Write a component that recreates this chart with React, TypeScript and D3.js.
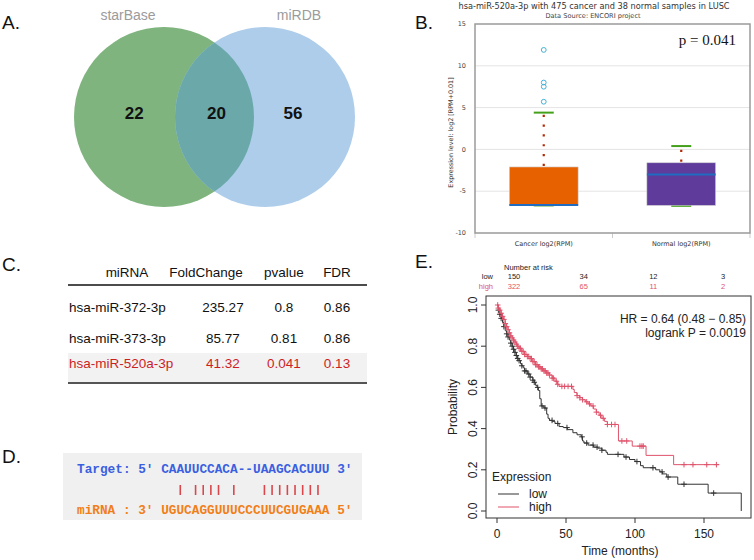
import React from 'react';
import * as d3 from 'd3';

// ---- A: venn
const vennSets = ['starBase', 'miRDB'];
const vennCounts = [22, 20, 56]; // starBase only, shared, miRDB only

// ---- B: box plot
const boxGroups = ['Cancer log2(RPM)', 'Normal log2(RPM)'];
const boxStats = [
  { q1: -6.7, median: -6.65, q3: -2.1, lo: -6.7, hi: 4.4 },
  { q1: -6.7, median: -3.0, q3: -1.6, lo: -6.75, hi: 0.4 },
];
const cancerOutliers = [5.7, 7.5, 8.0, 11.9];
const boxTicks = [15, 10, 5, 0, -5, -10];

// ---- C: table
const tableHeader = ['miRNA', 'FoldChange', 'pvalue', 'FDR'];
const tableRows = [
  ['hsa-miR-372-3p', '235.27', '0.8', '0.86'],
  ['hsa-miR-373-3p', '85.77', '0.81', '0.86'],
  ['hsa-miR-520a-3p', '41.32', '0.041', '0.13'],
];
const highlightRow = 2;

// ---- D: binding site
const targetSeq = 'CAAUUCCACA--UAAGCACUUU';
const mirnaSeq = 'UGUCAGGUUUCCCUUCGUGAAA';
const pairIdx = [2, 4, 5, 6, 7, 9, 13, 14, 15, 16, 17, 18, 19, 20];

// ---- E: Kaplan-Meier
const lowSteps: [number, number][] = [
  [1, 0.975], [2, 0.955], [3, 0.935], [4, 0.915], [5, 0.895], [6, 0.875], [7, 0.86], [8, 0.845],
  [9, 0.83], [10, 0.815], [11, 0.8], [12, 0.785], [13, 0.77], [14, 0.755], [15, 0.74], [16, 0.73],
  [17, 0.715], [18, 0.705], [19, 0.695], [20, 0.68], [22, 0.665], [24, 0.65], [26, 0.635], [27, 0.625],
  [28, 0.61], [29, 0.6], [30, 0.585], [31, 0.545], [32, 0.51], [34, 0.5], [36, 0.47], [37, 0.45],
  [38, 0.44], [40, 0.435], [42, 0.425], [45, 0.41], [48, 0.405], [51, 0.395], [55, 0.38], [58, 0.37],
  [61, 0.36], [62, 0.34], [63, 0.33], [66, 0.32], [70, 0.31], [73, 0.305], [76, 0.295], [79, 0.285],
  [80, 0.275], [92, 0.262], [96, 0.25], [100, 0.24], [104, 0.22], [106, 0.21], [115, 0.2], [118, 0.19],
  [120, 0.18], [123, 0.165], [131, 0.13], [153, 0.087], [177, 0],
];
const highSteps: [number, number][] = [
  [1, 0.985], [2, 0.975], [3, 0.96], [4, 0.945], [5, 0.93], [6, 0.91], [7, 0.895], [8, 0.88],
  [9, 0.865], [10, 0.85], [11, 0.84], [12, 0.83], [13, 0.82], [14, 0.81], [15, 0.8], [16, 0.79],
  [18, 0.775], [20, 0.76], [22, 0.75], [24, 0.74], [26, 0.725], [28, 0.71], [30, 0.7], [32, 0.69],
  [34, 0.68], [36, 0.67], [38, 0.66], [40, 0.645], [42, 0.63], [44, 0.615], [45, 0.605], [55, 0.59],
  [56, 0.575], [58, 0.56], [60, 0.55], [62, 0.54], [64, 0.53], [66, 0.52], [68, 0.51], [70, 0.495],
  [72, 0.48], [74, 0.465], [76, 0.45], [78, 0.435], [80, 0.42], [88, 0.34], [98, 0.315], [108, 0.27],
  [128, 0.225], [161, 0.225],
];
const lowCensor = [1, 2, 3, 5, 7, 8, 10, 11, 12, 13, 14, 15, 16, 18, 20, 21, 23, 24, 26, 27, 29.5,
  32.6, 34.8, 39.9, 44, 50.7, 61.6, 65, 69.6, 72.5, 76, 87.7, 93.5, 101.4, 113, 119.6, 124, 135.5, 157];
const highCensor = [0.5, 1, 2, 3, 4, 5, 6, 7, 8, 9, 10, 11, 12, 13, 14, 15, 16, 17, 18, 19, 20, 21, 22,
  23, 24, 25, 26, 27, 28, 29, 30, 31, 32, 33, 34, 35, 36, 37, 38, 40, 41, 43, 44, 47, 49, 51.5, 54, 58,
  60, 62, 65, 67, 69.6, 72, 75, 77, 80, 83, 85.5, 90.5, 94, 103.6, 105, 106, 135.5, 142, 152, 159];
const riskTimes = [0, 50, 100, 150];
const riskLow = [150, 34, 12, 3];
const riskHigh = [322, 65, 11, 2];
const kmXTicks = [0, 50, 100, 150];
const kmYTicks = [0, 0.2, 0.4, 0.6, 0.8, 1.0];

const SANS = 'Liberation Sans, Arial, sans-serif';
const DEJA = 'DejaVu Sans, Verdana, sans-serif';
const LOW_COL = '#333333';
const HIGH_COL = '#DF536B';

function survAt(steps: [number, number][], t: number) {
  let s = 1;
  for (const [tt, ss] of steps) {
    if (tt <= t) s = ss;
    else break;
  }
  return s;
}

const Label = ({ x, y, t }: { x: number; y: number; t: string }) => (
  <text x={x} y={y} fontFamily={SANS} fontSize={19} fill="#111">{t}</text>
);

function Venn() {
  const r = 90, cy = 117;
  const c1 = 164, c2 = 265;
  const pos = [c1 - r * 0.33, (c1 + c2) / 2 + 2, c2 + r * 0.31];
  return (
    <g>
      <defs>
        <clipPath id="clipLeft"><circle cx={c1} cy={cy} r={r} /></clipPath>
      </defs>
      <circle cx={c1} cy={cy} r={r} fill="#7fb47e" />
      <circle cx={c2} cy={cy} r={r} fill="#aecdeb" />
      <circle cx={c2} cy={cy} r={r} fill="#6aa8aa" clipPath="url(#clipLeft)" />
      {vennSets.map((s, i) => (
        <text key={s} x={i === 0 ? 128 : 299} y={20} textAnchor="middle" fontFamily={SANS}
          fontSize={14} fill="#9b9b9b">{s}</text>
      ))}
      {vennCounts.map((v, i) => (
        <text key={i} x={pos[i]} y={119} textAnchor="middle" fontFamily={SANS} fontSize={17}
          fontWeight="bold" fill="#111">{v}</text>
      ))}
    </g>
  );
}

function BoxPlot() {
  const left = 475, right = 750, top = 24, bottom = 233;
  const y = d3.scaleLinear().domain([-10, 15]).range([bottom, top]);
  const x = d3.scaleBand().domain(boxGroups).range([left, right]);
  const bw = x.bandwidth() * 0.5;
  const fills = ['#e86100', '#5f3b9b'];
  return (
    <g>
      <text x={594} y={9} textAnchor="middle" fontFamily={DEJA} fontSize={8.2} fill="#333">
        hsa-miR-520a-3p with 475 cancer and 38 normal samples in LUSC
      </text>
      <text x={593} y={17.5} textAnchor="middle" fontFamily={DEJA} fontSize={6.6} fill="#444">
        Data Source: ENCORI project
      </text>
      {boxTicks.map(t => (
        <g key={t}>
          {t > -10 && t < 15 && (
            <line x1={left} x2={right} y1={y(t)} y2={y(t)} stroke="#e4e4e4" strokeWidth={1} />
          )}
          <text x={466} y={y(t) + 2.2} textAnchor="end" fontFamily={DEJA} fontSize={6.5} fill="#444">{t}</text>
        </g>
      ))}
      {[left, left + x.bandwidth(), right].map((v, i) => (
        <line key={i} x1={v} x2={v} y1={bottom} y2={bottom + 5} stroke="#ccc" strokeWidth={1} />
      ))}
      {boxStats.map((s, i) => {
        const cx = (x(boxGroups[i]) || 0) + x.bandwidth() / 2;
        return (
          <g key={i}>
            <line x1={cx} x2={cx} y1={y(s.q3) - 1} y2={y(s.hi)} stroke="#b22a00" strokeWidth={2.2}
              strokeDasharray="2.2 7.6" />
            <line x1={cx - 10} x2={cx + 10} y1={y(s.hi)} y2={y(s.hi)} stroke="#44a01a" strokeWidth={2} />
            <line x1={cx - 10} x2={cx + 10} y1={y(s.lo)} y2={y(s.lo)} stroke="#44a01a" strokeWidth={2} />
            <rect x={cx - bw / 2} y={y(s.q3)} width={bw} height={y(s.q1) - y(s.q3)} fill={fills[i]}
              stroke="#cfcfcf" strokeWidth={0.6} />
            <line x1={cx - bw / 2} x2={cx + bw / 2} y1={y(s.median)} y2={y(s.median)} stroke="#1f6cc0"
              strokeWidth={2} />
            <text x={cx} y={245.5} textAnchor="middle" fontFamily={DEJA} fontSize={6.5} fill="#333">
              {boxGroups[i]}
            </text>
          </g>
        );
      })}
      {cancerOutliers.map((o, i) => (
        <circle key={i} cx={(x(boxGroups[0]) || 0) + x.bandwidth() / 2} cy={y(o)} r={2.4} fill="none"
          stroke="#45b0d6" strokeWidth={1} />
      ))}
      <rect x={left} y={top} width={right - left} height={bottom - top} fill="none" stroke="#9a9a9a"
        strokeWidth={1.5} />
      <text transform={`translate(453,${(top + bottom) / 2 + 4}) rotate(-90)`} textAnchor="middle"
        fontFamily={DEJA} fontSize={6.4} fill="#333">Expression level: log2 [RPM+0.01]</text>
      <text x={736} y={45} textAnchor="end" fontFamily="Liberation Serif, Times New Roman, serif"
        fontSize={15} fill="#111">p = 0.041</text>
    </g>
  );
}

function Table() {
  const headX = [127, 206, 284, 337];
  const cellX = [69, 223, 284, 337];
  const rowY = [311.5, 342.5, 367.5];
  return (
    <g fontFamily={SANS} fontSize={13.5}>
      <rect x={68} y={353} width={299} height={30} fill="#f2f2f2" />
      {tableHeader.map((h, i) => (
        <text key={h} x={headX[i]} y={277} textAnchor="middle" fill="#111">{h}</text>
      ))}
      <line x1={68} x2={367} y1={285} y2={285} stroke="#111" strokeWidth={1.3} />
      {tableRows.map((row, r) => row.map((c, i) => (
        <text key={r + '-' + i} x={cellX[i]} y={rowY[r]} textAnchor={i === 0 ? 'start' : 'middle'}
          fill={r === highlightRow ? '#cc1f1f' : '#111'}>{c}</text>
      )))}
      <line x1={68} x2={367} y1={383} y2={383} stroke="#555" strokeWidth={2} />
    </g>
  );
}

function Binding() {
  const fs = 12.75;
  const cw = fs * 0.6;
  const x0 = 77;
  const seqX = x0 + 11 * cw;
  return (
    <g fontFamily="Liberation Mono, Courier New, monospace" fontSize={fs} fontWeight="bold">
      <rect x={63} y={453} width={299} height={67} fill="#f0f0f0" />
      <text x={x0} y={473} fill="#3a5fe0" xmlSpace="preserve">{`Target: 5' ${targetSeq} 3'`}</text>
      <text x={x0} y={514} fill="#f07f1a" xmlSpace="preserve">{`miRNA : 3' ${mirnaSeq} 5'`}</text>
      {pairIdx.map(i => (
        <line key={i} x1={seqX + cw * (i + 0.5)} x2={seqX + cw * (i + 0.5)} y1={485} y2={495}
          stroke="#d9474c" strokeWidth={1.6} />
      ))}
    </g>
  );
}

function KM() {
  const left = 486, right = 751, top = 296, bottom = 518;
  const x = d3.scaleLinear().domain([0, 150]).range([497, 704]);
  const y = d3.scaleLinear().domain([0, 1]).range([511, 305]);
  const rx = d3.scaleLinear().domain([0, 150]).range([514, 723]);
  const line = d3.line<[number, number]>().x(d => x(d[0])).y(d => y(d[1])).curve(d3.curveStepAfter);
  const series = [
    { steps: lowSteps, cens: lowCensor, col: LOW_COL },
    { steps: highSteps, cens: highCensor, col: HIGH_COL },
  ];
  return (
    <g fontFamily={SANS}>
      <text x={504} y={270} fontSize={7.5} fill="#222">Number at risk</text>
      <text x={493} y={279} textAnchor="end" fontSize={7.5} fill="#222">low</text>
      <text x={493} y={289} textAnchor="end" fontSize={7.5} fill={HIGH_COL}>high</text>
      {riskTimes.map((t, i) => (
        <g key={t}>
          <text x={rx(t)} y={279} textAnchor="middle" fontSize={7.5} fill="#222">{riskLow[i]}</text>
          <text x={rx(t)} y={289} textAnchor="middle" fontSize={7.5} fill={HIGH_COL}>{riskHigh[i]}</text>
        </g>
      ))}
      {series.map((s, k) => (
        <g key={k}>
          <path d={line([[0, 1], ...s.steps]) || ''} fill="none" stroke={s.col} strokeWidth={1} />
          {s.cens.map((c, j) => {
            const cx = x(c), cy = y(survAt(s.steps, c));
            return (
              <path key={j} d={`M${cx - 2.8},${cy}H${cx + 2.8}M${cx},${cy - 2.8}V${cy + 2.8}`} stroke={s.col}
                strokeWidth={1} />
            );
          })}
        </g>
      ))}
      <rect x={left} y={top} width={right - left} height={bottom - top} fill="none" stroke="#333"
        strokeWidth={1} />
      {kmYTicks.map(t => (
        <g key={t}>
          <line x1={left - 5} x2={left} y1={y(t)} y2={y(t)} stroke="#333" />
          <text transform={`translate(477,${y(t)}) rotate(-90)`} textAnchor="middle" fontSize={12}
            fill="#222">{t.toFixed(1)}</text>
        </g>
      ))}
      {kmXTicks.map(t => (
        <g key={t}>
          <line x1={x(t)} x2={x(t)} y1={bottom} y2={bottom + 5} stroke="#333" />
          <text x={x(t)} y={538} textAnchor="middle" fontSize={12} fill="#222">{t}</text>
        </g>
      ))}
      <text x={620} y={555} textAnchor="middle" fontSize={12} fill="#222">Time (months)</text>
      <text transform={`translate(457,${(top + bottom) / 2}) rotate(-90)`} textAnchor="middle"
        fontSize={12} fill="#222">Probability</text>
      <text x={746} y={323} textAnchor="end" fontSize={12} fill="#222">HR = 0.64 (0.48 − 0.85)</text>
      <text x={746} y={337} textAnchor="end" fontSize={12} fill="#222">logrank P = 0.0019</text>
      <text x={492} y={481} fontSize={12} fill="#222">Expression</text>
      <line x1={498} x2={519} y1={494} y2={494} stroke={LOW_COL} />
      <text x={529} y={498} fontSize={12} fill="#222">low</text>
      <line x1={498} x2={519} y1={507} y2={507} stroke={HIGH_COL} />
      <text x={529} y={511} fontSize={12} fill="#222">high</text>
    </g>
  );
}

export default function App() {
  return (
    <svg width={754} height={560} style={{ position: 'absolute', left: 0, top: 0, background: '#fff' }}>
      <rect width={754} height={560} fill="#fff" />
      <Label x={2} y={29} t="A." />
      <Label x={415} y={29} t="B." />
      <Label x={2} y={271} t="C." />
      <Label x={2} y={463} t="D." />
      <Label x={415} y={268} t="E." />
      <Venn />
      <BoxPlot />
      <Table />
      <Binding />
      <KM />
    </svg>
  );
}
